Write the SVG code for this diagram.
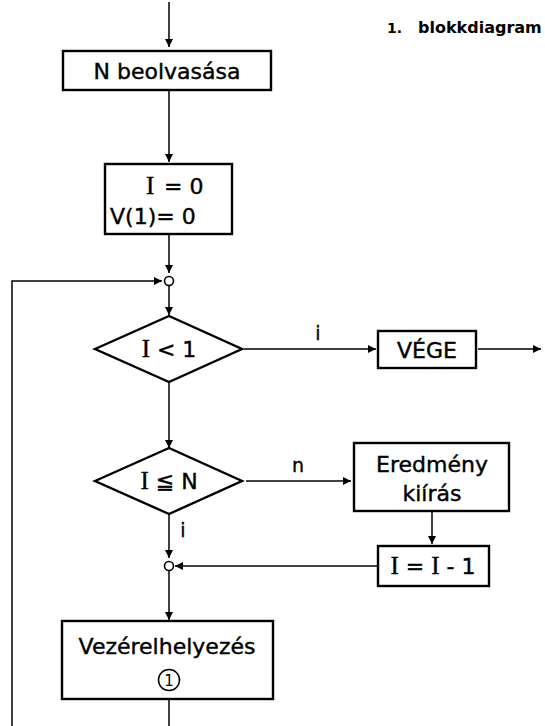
<svg xmlns="http://www.w3.org/2000/svg" width="545" height="726" viewBox="0 0 545 726">
<defs>
<marker id="ah" viewBox="0 0 10 10" refX="10" refY="5" markerWidth="10" markerHeight="8" markerUnits="userSpaceOnUse" orient="auto">
<path d="M0,0 L10,5 L0,10 z" fill="#000"/>
</marker>
<style>
.box{fill:#fff;stroke:#000;stroke-width:2.4}
.ln{fill:none;stroke:#000;stroke-width:1.5}
.t{font-family:"DejaVu Sans","Liberation Sans",sans-serif;font-size:22px;fill:#000;stroke:#000;stroke-width:0.4;text-anchor:middle}
.s{font-family:"DejaVu Sans","Liberation Sans",sans-serif;font-size:19px;fill:#000;stroke:#000;stroke-width:0.3;text-anchor:middle}
.ser{font-family:"Liberation Serif",serif;font-size:25px}
</style>
</defs>
<rect width="545" height="726" fill="#fff"/>
<text x="387" y="33" font-family="DejaVu Sans, sans-serif" font-size="14" font-weight="bold">1.</text>
<text x="418" y="33" font-family="DejaVu Sans, sans-serif" font-size="16" font-weight="bold">blokkdiagram</text>
<g id="connectors">
<line class="ln" x1="169" y1="2" x2="169" y2="47" marker-end="url(#ah)"/>
<line class="ln" x1="169" y1="90" x2="169" y2="162" marker-end="url(#ah)"/>
<line class="ln" x1="169" y1="235" x2="169" y2="273" marker-end="url(#ah)"/>
<polyline class="ln" points="12,726 12,281 162,281" marker-end="url(#ah)"/>
<line class="ln" x1="169" y1="286" x2="169" y2="315" marker-end="url(#ah)"/>
<line class="ln" x1="244" y1="349" x2="376" y2="349" marker-end="url(#ah)"/>
<text class="s" x="318" y="340">i</text>
<line class="ln" x1="478" y1="349" x2="541" y2="349" marker-end="url(#ah)"/>
<line class="ln" x1="169" y1="382" x2="169" y2="448" marker-end="url(#ah)"/>
<line class="ln" x1="246" y1="481" x2="351" y2="481" marker-end="url(#ah)"/>
<text class="s" x="298" y="472">n</text>
<line class="ln" x1="169" y1="514" x2="169" y2="558" marker-end="url(#ah)"/>
<text class="s" x="183" y="537">i</text>
<line class="ln" x1="432" y1="512" x2="432" y2="544" marker-end="url(#ah)"/>
<line class="ln" x1="377" y1="566" x2="175" y2="566" marker-end="url(#ah)"/>
<line class="ln" x1="169" y1="571" x2="169" y2="620" marker-end="url(#ah)"/>
<line class="ln" x1="169" y1="700" x2="169" y2="726"/>
</g>
<g id="junction1"><circle cx="169" cy="281" r="4.5" fill="#fff" stroke="#000" stroke-width="1.6"/></g>
<g id="junction2"><circle cx="169" cy="566" r="4.5" fill="#fff" stroke="#000" stroke-width="1.6"/></g>
<g id="read">
<rect class="box" x="63" y="51" width="208" height="39"/>
<text class="t" x="167" y="79">N beolvasása</text>
</g>
<g id="init">
<rect class="box" x="105" y="164" width="127" height="70"/>
<text class="t" x="146" y="194" style="text-anchor:start"><tspan class="ser">I</tspan></text>
<text class="t" x="164" y="194" style="text-anchor:start">=  0</text>
<text class="t" x="110" y="224" style="text-anchor:start">V(1)=  0</text>
</g>
<g id="cond1">
<polygon class="box" points="95,349 169,316 242,349 169,382"/>
<text class="t" x="169" y="357"><tspan class="ser">I</tspan> &lt; 1</text>
</g>
<g id="end">
<rect class="box" x="378" y="331" width="98" height="37"/>
<text class="t" x="427" y="358">VÉGE</text>
</g>
<g id="cond2">
<polygon class="box" points="95,481 169,448 242,481 169,514"/>
<text class="t" x="169" y="489"><tspan class="ser">I</tspan> ≦ N</text>
</g>
<g id="output">
<rect class="box" x="354" y="443" width="155" height="68"/>
<text class="t" x="432" y="472">Eredmény</text>
<text class="t" x="432" y="501">kiírás</text>
</g>
<g id="decr">
<rect class="box" x="378" y="546" width="111" height="40"/>
<text class="t" x="433" y="574"><tspan class="ser">I</tspan> = <tspan class="ser">I</tspan> - 1</text>
</g>
<g id="jump">
<rect class="box" x="62" y="621" width="211" height="78"/>
<text class="t" x="167" y="654">Vezérelhelyezés</text>
<circle cx="169" cy="680" r="10.5" fill="none" stroke="#000" stroke-width="1.5"/>
<text x="169" y="686" font-family="DejaVu Sans, sans-serif" font-size="15" text-anchor="middle">1</text>
</g>
</svg>
